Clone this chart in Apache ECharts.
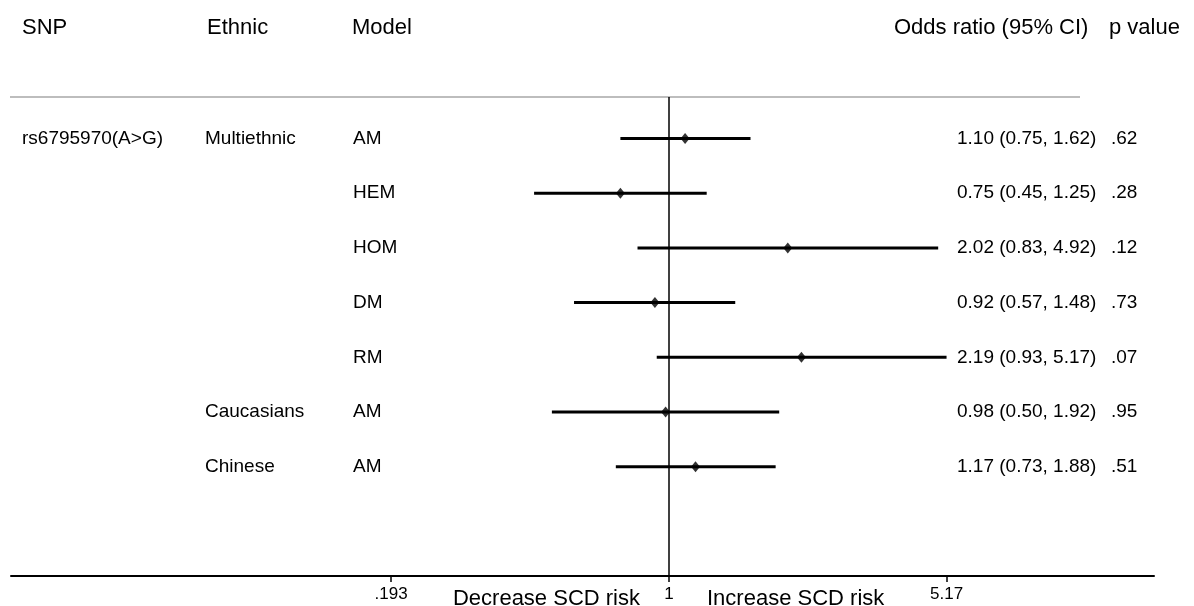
<!DOCTYPE html>
<html><head><meta charset="utf-8">
<script src="https://cdn.jsdelivr.net/npm/echarts@6/dist/echarts.min.js"></script>
<style>html,body{margin:0;padding:0;background:#fff}#c{width:1194px;height:606px}</style>
</head><body><div id="c"></div>
<script>
// ---- data ----
const snp = ['rs6795970(A>G)', '', '', '', '', '', ''];
const ethnic = ['Multiethnic', '', '', '', '', 'Caucasians', 'Chinese'];
const models = ['AM', 'HEM', 'HOM', 'DM', 'RM', 'AM', 'AM'];
const oddsRatio = [1.10, 0.75, 2.02, 0.92, 2.19, 0.98, 1.17];
const ciLower = [0.75, 0.45, 0.83, 0.57, 0.93, 0.50, 0.73];
const ciUpper = [1.62, 1.25, 4.92, 1.48, 5.17, 1.92, 1.88];
const pValues = ['.62', '.28', '.12', '.73', '.07', '.95', '.51'];
const headers = ['SNP', 'Ethnic', 'Model', 'Odds ratio (95% CI)', 'p value'];
const tickValues = [0.193, 1, 5.17];
const tickLabels = ['.193', '1', '5.17'];
const axisTitles = ['Decrease SCD risk', 'Increase SCD risk'];
const xRange = [0.02035, 17.65];

// ---- layout ----
const FONT = "'Liberation Sans', Arial, Helvetica, sans-serif";
const colX = [22, 205, 353, 957, 1111];
const L = Math.log10;
const orText = oddsRatio.map((v, i) => v.toFixed(2) + ' (' + ciLower[i].toFixed(2) + ', ' + ciUpper[i].toFixed(2) + ')');
const rows = models.map((m, i) => i);
const tickLog = tickValues.map(L);

const chart = echarts.init(document.getElementById('c'), null, {renderer: 'canvas'});
const option = {
  animation: false,
  backgroundColor: '#fff',
  grid: {left: 11, right: 40, top: 97, bottom: 30, containLabel: false},
  xAxis: {
    type: 'value', min: L(xRange[0]), max: L(xRange[1]),
    splitLine: {show: false},
    axisLine: {show: true, onZero: false, lineStyle: {color: '#000', width: 2}},
    axisTick: {show: true, customValues: tickLog, length: 6, lineStyle: {color: '#000', width: 1.5}},
    axisLabel: {
      show: true, customValues: tickLog, margin: 10, color: '#000', fontSize: 17, fontFamily: FONT,
      formatter: v => { const k = tickLog.findIndex(t => Math.abs(t - v) < 1e-6); return k >= 0 ? tickLabels[k] : ''; }
    }
  },
  yAxis: {type: 'value', inverse: true, min: -0.76, max: 8, show: false},
  series: [
    {
      type: 'custom', name: 'ci', z: 3,
      data: rows.map(i => [L(ciLower[i]), L(ciUpper[i]), i]),
      encode: {x: [0, 1], y: 2},
      renderItem: (params, api) => {
        const a = api.coord([api.value(0), api.value(2)]);
        const b = api.coord([api.value(1), api.value(2)]);
        return {type: 'line', shape: {x1: a[0], y1: a[1], x2: b[0], y2: b[1]}, style: {stroke: '#000', lineWidth: 3}};
      }
    },
    {
      type: 'scatter', name: 'or', z: 4,
      symbol: 'diamond', symbolSize: [9, 11],
      itemStyle: {color: '#000'},
      data: rows.map(i => [L(oddsRatio[i]), i]),
      markLine: {
        silent: true, symbol: 'none', label: {show: false},
        lineStyle: {color: '#000', width: 1.5, type: 'solid'},
        data: [{xAxis: 0}]
      }
    },
    {
      type: 'custom', name: 'table', z: 5,
      data: rows.map(i => [0, i]),
      encode: {x: 0, y: 1},
      renderItem: (params, api) => {
        const i = api.value(1);
        const y = api.coord([0, i])[1];
        const cells = [snp[i], ethnic[i], models[i], orText[i], pValues[i]];
        return {
          type: 'group',
          children: cells.map((t, k) => ({
            type: 'text',
            style: {x: colX[k], y: y, text: t, fill: '#000', fontSize: 19, fontFamily: FONT, align: 'left', verticalAlign: 'middle'}
          }))
        };
      }
    }
  ]
};
chart.setOption(option);

// headers, separator rule and direction titles
const headerX = [22, 207, 352, 894, 1109];
const x1 = chart.convertToPixel({xAxisIndex: 0}, 0);
const yAxisLine = chart.convertToPixel({yAxisIndex: 0}, 8);
const yTop = chart.convertToPixel({yAxisIndex: 0}, -0.76);
chart.setOption({
  graphic: [
    {type: 'line', shape: {x1: 10, y1: yTop, x2: 1080, y2: yTop}, style: {stroke: '#bdbdbd', lineWidth: 2}, z: 1},
    ...headers.map((h, k) => ({
      type: 'text', style: {x: headerX[k], y: 28, text: h, fill: '#000', fontSize: 22, fontFamily: FONT, align: 'left', verticalAlign: 'middle'}
    })),
    {type: 'text', style: {x: x1 - 29, y: yAxisLine + 23, text: axisTitles[0], fill: '#000', fontSize: 22, fontFamily: FONT, align: 'right', verticalAlign: 'middle'}},
    {type: 'text', style: {x: x1 + 38, y: yAxisLine + 23, text: axisTitles[1], fill: '#000', fontSize: 22, fontFamily: FONT, align: 'left', verticalAlign: 'middle'}}
  ]
});
</script>
</body></html>
